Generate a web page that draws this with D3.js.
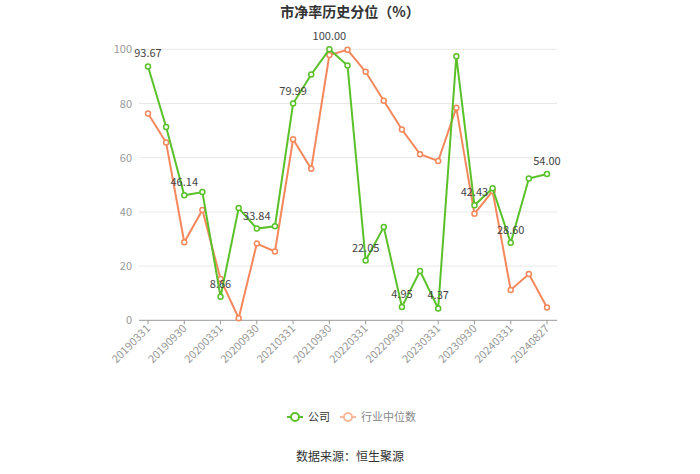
<!DOCTYPE html>
<html><head><meta charset="utf-8">
<script src="https://cdn.jsdelivr.net/npm/d3@7/dist/d3.min.js"></script>
<style>body{margin:0;background:#fff;}svg{display:block;font-family:"Noto Sans CJK SC","Microsoft YaHei",sans-serif;}</style>
</head><body><svg id="c" width="700" height="474"></svg>
<script>
const dates = ["20190331","20190630","20190930","20191231","20200331","20200630","20200930","20201231","20210331","20210630","20210930","20211231","20220331","20220630","20220930","20221231","20230331","20230630","20230930","20231231","20240331","20240630","20240827"];
const company = [93.67,71.3,46.14,47.3,8.66,41.4,33.84,34.7,79.99,90.7,100.00,94.0,22.05,34.4,4.95,18.2,4.37,97.4,42.43,48.7,28.60,52.3,54.00];
const industry = [76.3,65.6,28.8,40.7,15.2,0.8,28.3,25.4,66.8,55.9,97.9,99.8,91.7,81.0,70.4,61.3,58.8,78.4,39.3,47.7,11.2,17.1,4.7];
const yTicks = [0,20,40,60,80,100];
const seriesNames = ["公司","行业中位数"];
const colors = ["#5ac12a","#f5875c"];

const svg = d3.select("#c");
const x = d3.scalePoint().domain(dates).range([148,547]);
const y = d3.scaleLinear().domain([0,100]).range([320.3,49.3]);

svg.append("text").attr("x",350).attr("y",17).attr("text-anchor","middle")
  .attr("font-size",14).attr("font-weight","bold").attr("fill","#333").text("市净率历史分位（%）");

// grid
svg.append("g").selectAll("line").data(yTicks.filter(d=>d>0)).join("line")
  .attr("x1",139).attr("x2",557).attr("y1",d=>y(d)).attr("y2",d=>y(d))
  .attr("stroke","#e8e8e8").attr("stroke-width",1);
// y labels
svg.append("g").selectAll("text").data(yTicks).join("text")
  .attr("x",132).attr("y",d=>y(d)+4).attr("text-anchor","end")
  .attr("font-size",11).attr("fill","#999").text(d=>d);

// x axis
const xa = svg.append("g").attr("transform","translate(0,320.3)");
xa.append("line").attr("x1",139).attr("x2",557).attr("stroke","#999");
const shown = dates.filter((d,i)=>i%2===0 || i===dates.length-1);
xa.selectAll("line.t").data(shown).join("line").attr("class","t")
  .attr("x1",d=>x(d)).attr("x2",d=>x(d)).attr("y1",0).attr("y2",4).attr("stroke","#999");
xa.selectAll("text").data(shown).join("text")
  .attr("transform",d=>`translate(${x(d)+3},${9}) rotate(-45)`)
  .attr("text-anchor","end").attr("font-size",11).attr("fill","#999").text(d=>d);

const line = d3.line().x((d,i)=>x(dates[i])).y(d=>y(d));
[industry, company].forEach((vals,k)=>{
  const c = k===0?colors[1]:colors[0];
  svg.append("path").attr("d",line(vals)).attr("fill","none").attr("stroke",c).attr("stroke-width",2);
  svg.append("g").selectAll("circle").data(vals).join("circle")
    .attr("cx",(d,i)=>x(dates[i])).attr("cy",d=>y(d)).attr("r",2.5)
    .attr("fill","#fff").attr("stroke",c).attr("stroke-width",1.5);
});
// labels
svg.append("g").selectAll("text").data(company.map((v,i)=>[v,i]).filter(d=>d[1]%2===0)).join("text")
  .attr("x",d=>x(dates[d[1]])).attr("y",d=>y(d[0])-9)
  .attr("text-anchor","middle").attr("font-size",11).attr("fill","#444")
  .text(d=>d[0].toFixed(2));

// legend
const lg = svg.append("g");
const items = [{n:seriesNames[0],c:colors[0],x:287,tc:"#333"},{n:seriesNames[1],c:"#f8b89c",x:340,tc:"#888"}];
items.forEach(it=>{
  lg.append("line").attr("x1",it.x).attr("x2",it.x+16).attr("y1",417).attr("y2",417).attr("stroke",it.c).attr("stroke-width",2);
  lg.append("circle").attr("cx",it.x+8).attr("cy",417).attr("r",4).attr("fill","#fff").attr("stroke",it.c).attr("stroke-width",2);
  lg.append("text").attr("x",it.x+21).attr("y",421).attr("font-size",11).attr("fill",it.tc).text(it.n);
});
svg.append("text").attr("x",350).attr("y",461).attr("text-anchor","middle")
  .attr("font-size",12).attr("fill","#333").text("数据来源：恒生聚源");
</script></body></html>
